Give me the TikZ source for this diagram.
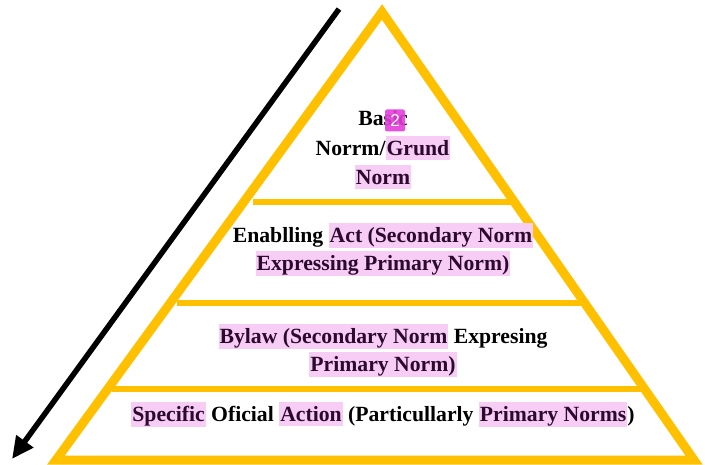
\documentclass[tikz,border=0pt]{standalone}
\usepackage{fontspec}
\setmainfont{Liberation Serif}
\newfontfamily\badgefont{Liberation Sans}
\usetikzlibrary{arrows.meta}
\definecolor{gold}{HTML}{FFC000}
\definecolor{hlpink}{HTML}{F7CCF5}
\definecolor{hltext}{HTML}{2B0A2E}
\definecolor{badgemag}{HTML}{E23DDA}
\newcommand\hlx[1]{{\setlength\fboxsep{1pt}\colorbox{hlpink}{\rule[-4pt]{0pt}{22pt}\color{hltext}#1}}}
\begin{document}
\begin{tikzpicture}[x=1pt,y=-1pt,
  tri/.style={draw=gold,line width=9pt,line join=miter},
  bar/.style={draw=gold,line width=6pt},
  arr/.style={draw=black,line width=5.5pt,-{Triangle[length=22pt,width=20pt]}},
  txt/.style={anchor=base,inner sep=0pt,font=\fontsize{21.7}{27}\selectfont\bfseries},
  badge/.style={fill=badgemag,fill opacity=0.9,text opacity=1,text=white,rounded corners=2pt,
    minimum width=20pt,minimum height=22pt,inner sep=0pt,font=\badgefont\fontsize{17}{17}\selectfont}]
\useasboundingbox (0,0) rectangle (705,465);
% triangle
\coordinate (apex) at (382,12);
\coordinate (bl) at (56,460);
\coordinate (br) at (694,460);
\draw[tri] (apex) -- (br) -- (bl) -- cycle;
% bars
\coordinate (l1a) at (253,202); \coordinate (l1b) at (512,202);
\coordinate (l2a) at (177,303); \coordinate (l2b) at (588,303);
\coordinate (l3a) at (112,389); \coordinate (l3b) at (647,389);
\draw[bar] (l1a) -- (l1b);
\draw[bar] (l2a) -- (l2b);
\draw[bar] (l3a) -- (l3b);
% arrow
\coordinate (as) at (339,9);
\coordinate (ae) at (12,459);
\draw[arr] (as) -- (ae);
% texts
\node[txt] (t1a) at (383,125.5) {Basic};
\node[txt] (t1b) at (383,155.5) {Norrm/\hlx{Grund}};
\node[txt] (t1c) at (383,184.5) {\hlx{Norm}};
\node[txt] (t2a) at (383,242.5) {Enablling \hlx{Act (Secondary Norm}};
\node[txt] (t2b) at (383,270.5) {\hlx{Expressing Primary Norm)}};
\node[txt] (t3a) at (383,343.5) {\hlx{Bylaw (Secondary Norm} Expresing};
\node[txt] (t3b) at (383,371) {\hlx{Primary Norm)}};
\node[txt] (t4a) at (383,421) {\hlx{Specific} Oficial \hlx{Action} (Particullarly \hlx{Primary Norms})};
\node[badge] (bd) at (395,120.5) {2};
\end{tikzpicture}
\end{document}
